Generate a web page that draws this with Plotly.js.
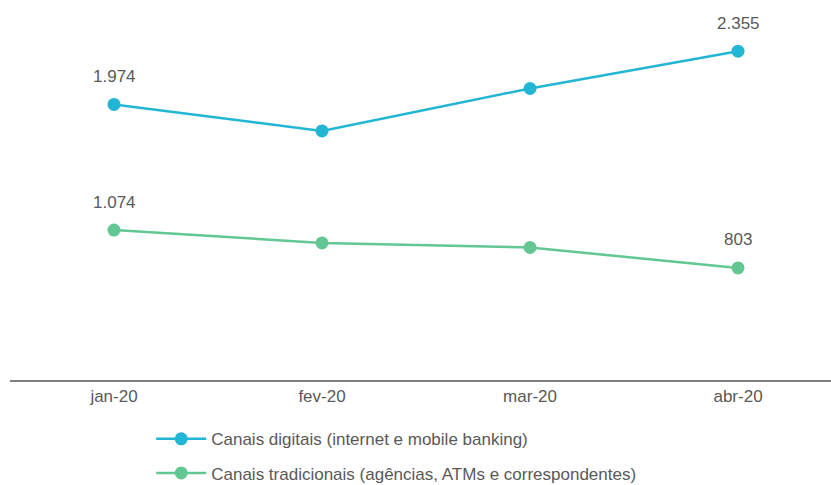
<!DOCTYPE html>
<html>
<head>
<meta charset="utf-8">
<script src="https://cdn.plot.ly/plotly-3.0.1.min.js"></script>
<style>
  html, body { margin: 0; padding: 0; background: #ffffff; }
  #chart { width: 831px; height: 485px; }
</style>
</head>
<body>
<div id="chart"></div>
<script>
// Monthly transactions by channel (millions)
const months = ['jan-20', 'fev-20', 'mar-20', 'abr-20'];
const digitalValues = [1974, 1784, 2088, 2355];
const traditionalValues = [1074, 982, 949, 803];
const seriesNames = [
  'Canais digitais (internet e mobile banking)',
  'Canais tradicionais (agências, ATMs e correspondentes)'
];
// Only the first and last month carry a value label
const labelledIndices = [0, 3];

const digitalColor = '#22b6d4';
const traditionalColor = '#62c793';
const textColor = '#595959';
const fontFamily = '"Liberation Sans", Arial, sans-serif';

// Brazilian-style thousands separator: 1974 -> "1.974"
function fmt(v) {
  return String(v).replace(/\B(?=(\d{3})+(?!\d))/g, '.');
}

const traces = [
  {
    x: months, y: digitalValues, name: seriesNames[0],
    type: 'scatter', mode: 'lines+markers',
    line: { color: digitalColor, width: 2.5 },
    marker: { color: digitalColor, size: 13 },
    legendgroup: 'g1'
  },
  {
    x: months, y: traditionalValues, name: seriesNames[1],
    type: 'scatter', mode: 'lines+markers',
    line: { color: traditionalColor, width: 2.5 },
    marker: { color: traditionalColor, size: 13 },
    legendgroup: 'g2'
  }
];

const annotations = [];
[digitalValues, traditionalValues].forEach(function (vals) {
  labelledIndices.forEach(function (i) {
    annotations.push({
      x: months[i], y: vals[i], xref: 'x', yref: 'y',
      text: fmt(vals[i]), showarrow: false,
      yshift: 28,
      font: { family: fontFamily, size: 17, color: textColor }
    });
  });
});

const layout = {
  width: 831, height: 485,
  margin: { l: 10, r: 0, t: 5, b: 105, autoexpand: false },
  paper_bgcolor: '#ffffff', plot_bgcolor: '#ffffff',
  font: { family: fontFamily, size: 17, color: textColor },
  showlegend: true,
  xaxis: {
    type: 'category',
    range: [-0.5, 3.447],
    showline: true, linecolor: '#808080', linewidth: 2,
    showgrid: false, zeroline: false, ticks: '',
    tickfont: { family: fontFamily, size: 17, color: textColor }
  },
  yaxis: {
    range: [0, 2686],
    visible: false, showgrid: false, zeroline: false
  },
  legend: {
    orientation: 'v',
    x: 0.172, xanchor: 'left',
    y: -0.11, yanchor: 'top',
    traceorder: 'grouped',
    tracegroupgap: 9,
    itemwidth: 50,
    font: { family: fontFamily, size: 17, color: textColor },
    bgcolor: 'rgba(0,0,0,0)'
  },
  annotations: annotations
};

Plotly.newPlot('chart', traces, layout, { displayModeBar: false, staticPlot: true });
</script>
</body>
</html>
